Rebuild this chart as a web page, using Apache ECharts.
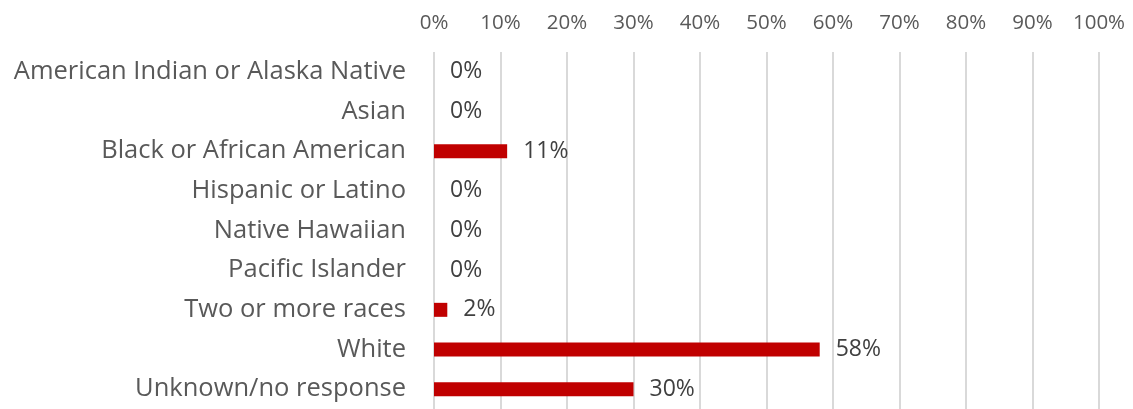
<!DOCTYPE html>
<html><head><meta charset="utf-8">
<script src="https://cdn.jsdelivr.net/npm/echarts@6/dist/echarts.min.js"></script>
<style>html,body{margin:0;padding:0;background:#fff}#c{width:1133px;height:409px}</style>
</head><body><div id="c"></div>
<script>
const categories = ["American Indian or Alaska Native","Asian","Black or African American","Hispanic or Latino","Native Hawaiian","Pacific Islander","Two or more races","White","Unknown/no response"];
const values = [0, 0, 11, 0, 0, 0, 2, 58, 30];
const xTicks = [0,10,20,30,40,50,60,70,80,90,100];

const chart = echarts.init(document.getElementById('c'));
chart.setOption({
  animation: false,
  grid: {left: 434, right: 34, top: 52, bottom: -2, containLabel: false},
  xAxis: {
    type: 'value', position: 'top', min: 0, max: 100, interval: 10,
    axisLine: {show: false}, axisTick: {show: false},
    splitLine: {lineStyle: {color: '#d9d9d9', width: 2}},
    axisLabel: {margin: 18, color: '#595959', fontFamily: 'Open Sans', fontSize: 20.5, formatter: v => v + '%'}
  },
  yAxis: {
    type: 'category', inverse: true, data: categories,
    axisLine: {show: false}, axisTick: {show: false},
    axisLabel: {margin: 28, color: '#595959', fontFamily: 'Open Sans', fontSize: 25.5, padding: [3, 0, 0, 0]}
  },
  series: [{
    type: 'bar', data: values, barWidth: 14,
    itemStyle: {color: '#c00000'},
    label: {show: true, position: 'right', distance: 16, color: '#404040', fontFamily: 'Open Sans', fontSize: 23, padding: [3, 0, 0, 0], formatter: p => p.value + '%'}
  }]
});
</script></body></html>
